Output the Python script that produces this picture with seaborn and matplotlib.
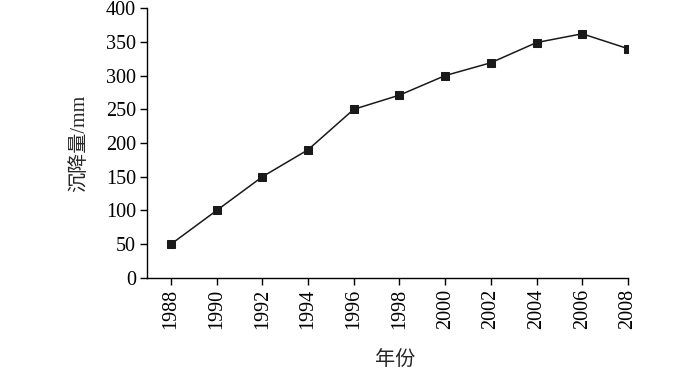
import numpy as np
import pandas as pd
import matplotlib
matplotlib.use("Agg")
import matplotlib.pyplot as plt
import seaborn as sns

# data
years = [1988, 1990, 1992, 1994, 1996, 1998, 2000, 2002, 2004, 2006, 2008]
subsidence = [50, 100, 150, 190, 250, 271, 300, 319, 349, 362, 340]
y_ticks = [0, 50, 100, 150, 200, 250, 300, 350, 400]

df = pd.DataFrame({"year": years, "value": subsidence})

sns.set_theme(style="ticks")
plt.rcParams["font.family"] = ["Liberation Serif", "Noto Sans CJK SC"]

fig = plt.figure(figsize=(7, 3.71), dpi=100)
ax = fig.add_axes([0.21, 0.251, 0.687, 0.727])

sns.lineplot(data=df, x="year", y="value", ax=ax, color="#1a1a1a",
             linewidth=1.1, marker="s", markersize=6, markeredgecolor="#1a1a1a")

ax.set_xlim(1986.95, 2008)
ax.set_ylim(0, 400)
ax.set_xticks(years)
ax.set_xticklabels([str(y) for y in years], rotation=90)
ax.set_yticks(y_ticks)

ax.spines["top"].set_visible(False)
ax.spines["right"].set_visible(False)
for s in ["left", "bottom"]:
    ax.spines[s].set_color("black")
    ax.spines[s].set_linewidth(1.0)
ax.tick_params(axis="both", direction="out", length=5, width=1.0,
               colors="black", labelsize=14.5, pad=3)

ax.set_xlabel("年份", fontsize=14.5)
ax.set_ylabel("沉降量/mm", fontsize=14.5)
ax.xaxis.set_label_coords(0.516, -0.27)
ax.yaxis.set_label_coords(-0.12, 0.5)

fig.savefig("out.png", dpi=100)
